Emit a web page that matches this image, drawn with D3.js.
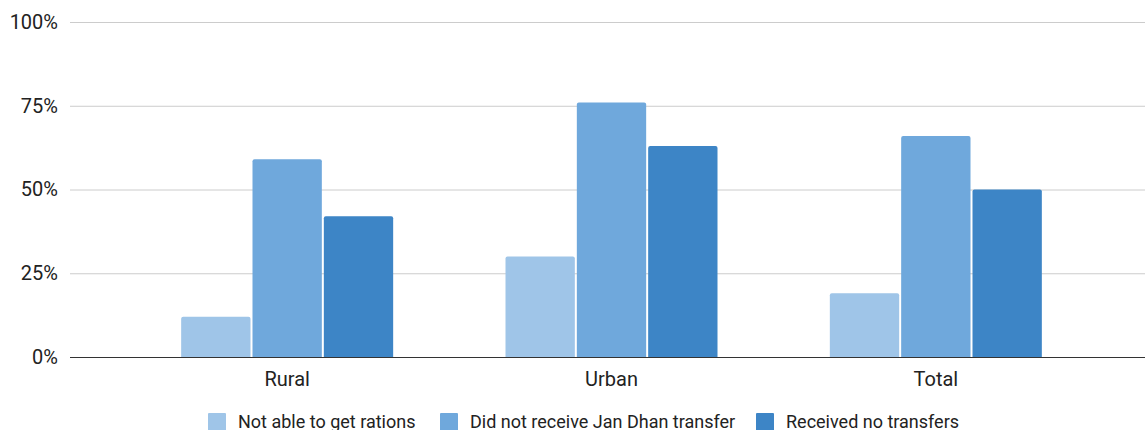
<!DOCTYPE html>
<html>
<head>
<meta charset="utf-8">
<script src="https://cdn.jsdelivr.net/npm/d3@7"></script>
<style>
  html, body { margin: 0; padding: 0; background: #fff; }
  svg { display: block; }
  svg text { font-family: Roboto, "Noto Sans", sans-serif; }
</style>
</head>
<body>
<svg id="chart" width="1145" height="430"></svg>
<script>
// Share of households, by area
const categories = ["Rural", "Urban", "Total"];
const seriesNames = ["Not able to get rations", "Did not receive Jan Dhan transfer", "Received no transfers"];
const notAbleToGetRations = [0.12, 0.30, 0.19];
const noJanDhanTransfer = [0.59, 0.76, 0.66];
const receivedNoTransfers = [0.42, 0.63, 0.50];
const yTicks = [0, 0.25, 0.5, 0.75, 1];
const colors = ["#9fc5e8", "#6fa8dc", "#3d85c6"];

const seriesValues = [notAbleToGetRations, noJanDhanTransfer, receivedNoTransfers];
const rows = categories.map((c, i) => ({
  category: c,
  values: seriesNames.map((s, j) => ({ series: s, index: j, value: seriesValues[j][i] }))
}));

const svg = d3.select("#chart");
const plotLeft = 70, plotRight = 1145;
const font = "Roboto, 'Noto Sans', sans-serif";

const y = d3.scaleLinear().domain([0, 1]).range([357, 22]);

const x = d3.scaleBand().domain(categories).range([125, 1098]).padding(0);
const groupWidth = 212;
const xInner = d3.scaleBand()
  .domain(d3.range(seriesNames.length))
  .range([(x.bandwidth() - groupWidth) / 2, (x.bandwidth() + groupWidth) / 2])
  .paddingInner(0.028);

// gridlines and percentage labels
const yAxis = d3.axisLeft(y)
  .tickValues(yTicks)
  .tickSize(-(plotRight - plotLeft))
  .tickPadding(12)
  .tickFormat(d3.format(".0%"));

const gAxis = svg.append("g")
  .attr("transform", `translate(${plotLeft},0)`)
  .call(yAxis)
  .attr("font-family", font);
gAxis.select(".domain").remove();
gAxis.selectAll(".tick line").attr("stroke", "#cccccc").attr("stroke-width", 1);
gAxis.selectAll(".tick text")
  .attr("fill", "#222")
  .style("font-size", "20px");

// bars
const groups = svg.append("g").selectAll("g")
  .data(rows)
  .join("g")
  .attr("transform", d => `translate(${x(d.category)},0)`);

groups.selectAll("path")
  .data(d => d.values)
  .join("path")
  .attr("fill", d => colors[d.index])
  .attr("d", d => {
    const x0 = xInner(d.index), w = xInner.bandwidth();
    const top = y(d.value), bottom = y(0), r = 2;
    return `M${x0},${bottom}V${top + r}Q${x0},${top} ${x0 + r},${top}H${x0 + w - r}Q${x0 + w},${top} ${x0 + w},${top + r}V${bottom}Z`;
  });

// baseline
svg.append("line")
  .attr("x1", plotLeft).attr("x2", plotRight)
  .attr("y1", y(0) + 0.5).attr("y2", y(0) + 0.5)
  .attr("stroke", "#333").attr("stroke-width", 1);

// category labels
const xAxis = d3.axisBottom(x).tickSize(0).tickPadding(15);
const gx = svg.append("g")
  .attr("transform", `translate(0,${y(0)})`)
  .call(xAxis)
  .attr("font-family", font);
gx.select(".domain").remove();
gx.selectAll(".tick text")
  .attr("fill", "#222")
  .style("font-size", "20px");

// legend
const legendX = [208, 440, 756];
const legend = svg.append("g").selectAll("g")
  .data(seriesNames)
  .join("g")
  .attr("transform", (d, i) => `translate(${legendX[i]},413)`);
legend.append("rect")
  .attr("width", 18).attr("height", 18).attr("rx", 1)
  .attr("fill", (d, i) => colors[i]);
legend.append("text")
  .attr("x", 30).attr("y", 15)
  .attr("fill", "#222")
  .style("font-size", "18px")
  .text(d => d);
</script>
</body>
</html>
